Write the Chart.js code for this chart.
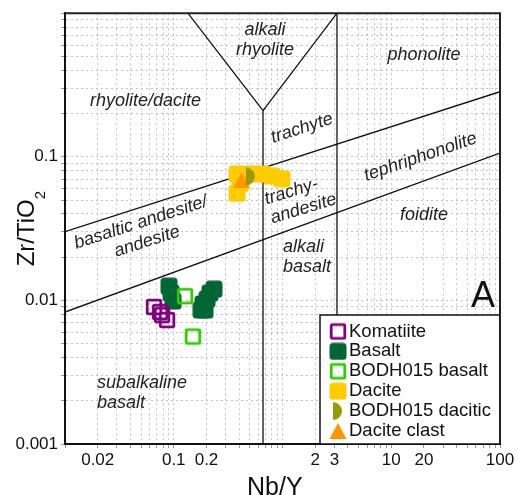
<!DOCTYPE html>
<html>
<head>
<meta charset="utf-8">
<script src="https://cdn.jsdelivr.net/npm/chart.js@4.4.1/dist/chart.umd.min.js"></script>
<style>
  html, body { margin: 0; background: #fff; }
  #wrap { width: 518px; height: 495px; }
</style>
</head>
<body>
<div id="wrap"><canvas id="chart"></canvas></div>
<script>
const fontFamily = '"Liberation Sans", Arial, Helvetica, sans-serif';

// axis tick labels (log scales, only these values are printed)
const xTickLabels = [0.02, 0.1, 0.2, 2, 3, 10, 20, 100];
const yTickLabels = [0.001, 0.01, 0.1];

// Nb/Y vs Zr/TiO2 per sample group
const komatiiteNbY = [0.0658, 0.0748, 0.078, 0.0867];
const komatiiteZrTi = [0.0090, 0.0083, 0.0079, 0.0073];

const basaltNbY = [0.0904, 0.0944, 0.0984, 0.2344, 0.2154, 0.2023, 0.186, 0.1783, 0.1936];
const basaltZrTi = [0.01256, 0.01125, 0.00989, 0.01197, 0.01125, 0.01021, 0.00944, 0.00857, 0.00857];

const bodhBasaltNbY = [0.127, 0.150];
const bodhBasaltZrTi = [0.0107, 0.0056];

const daciteNbY = [0.382, 0.382, 0.406, 0.502, 0.647, 0.80, 0.989];
const daciteZrTi = [0.0759, 0.0556, 0.0647, 0.0759, 0.0759, 0.0734, 0.0702];

const bodhDaciticNbY = [0.461];
const bodhDaciticZrTi = [0.0730];

const clastNbY = [0.420];
const clastZrTi = [0.069];

// field boundaries, [Nb/Y, Zr/TiO2] end points
const boundaries = [
  [[0.135, 1], [0.662, 0.21]],
  [[0.662, 0.21], [3.17, 1]],
  [[0.662, 0.21], [0.662, 0.001]],
  [[3.17, 1], [3.17, 0.001]],
  [[0.01, 0.0301], [100, 0.284]],
  [[0.01, 0.0083], [100, 0.106]]
];

// field names, anchored in data coordinates
const fieldLabels = [
  { lines: ['alkali', 'rhyolite'], x: 0.69, y: 0.646, rot: 0 },
  { lines: ['phonolite'], x: 20.0, y: 0.513, rot: 0 },
  { lines: ['rhyolite/dacite'], x: 0.055, y: 0.2466, rot: 0 },
  { lines: ['trachyte'], x: 1.51, y: 0.158, rot: -18 },
  { lines: ['tephriphonolite'], x: 18.6, y: 0.0996, rot: -19 },
  { lines: ['trachy-', 'andesite'], x: 0.736, y: 0.0432, rot: -17, align: 'left' },
  { lines: ['basaltic andesite/', 'andesite'], x: 0.0532, y: 0.0299, rot: -18 },
  { lines: ['foidite'], x: 20.0, y: 0.0395, rot: 0 },
  { lines: ['alkali', 'basalt'], x: 1.01, y: 0.0202, rot: 0, align: 'left' },
  { lines: ['subalkaline', 'basalt'], x: 0.0197, y: 0.00227, rot: 0, align: 'left' }
];

function markerCanvas(size, draw) {
  const c = document.createElement('canvas');
  c.width = size;
  c.height = size;
  draw(c.getContext('2d'), size);
  return c;
}

function roundRect(ctx, x, y, w, h, r) {
  ctx.beginPath();
  ctx.moveTo(x + r, y);
  ctx.arcTo(x + w, y, x + w, y + h, r);
  ctx.arcTo(x + w, y + h, x, y + h, r);
  ctx.arcTo(x, y + h, x, y, r);
  ctx.arcTo(x, y, x + w, y, r);
  ctx.closePath();
}

const openSquare = (color) => markerCanvas(20, (ctx) => {
  ctx.strokeStyle = color;
  ctx.lineWidth = 2.8;
  roundRect(ctx, 3.2, 3.2, 13.6, 13.6, 1.2);
  ctx.stroke();
});

const filledSquare = (color) => markerCanvas(18, (ctx) => {
  ctx.fillStyle = color;
  roundRect(ctx, 0.5, 0.5, 17, 17, 3.5);
  ctx.fill();
});

const halfDisc = (color) => markerCanvas(22, (ctx) => {
  ctx.fillStyle = color;
  ctx.beginPath();
  ctx.arc(11, 11, 9, -Math.PI / 2, Math.PI / 2);
  ctx.closePath();
  ctx.fill();
});

const triangle = (color) => markerCanvas(18, (ctx) => {
  ctx.fillStyle = color;
  ctx.beginPath();
  ctx.moveTo(9, 1);
  ctx.lineTo(17.5, 17);
  ctx.lineTo(0.5, 17);
  ctx.closePath();
  ctx.fill();
});

const toPoints = (xs, ys) => xs.map((v, i) => ({ x: v, y: ys[i] }));

function logTicks(min, max) {
  const out = [];
  for (let e = Math.floor(Math.log10(min)); e <= Math.ceil(Math.log10(max)); e++) {
    for (let m = 1; m < 10; m++) {
      const v = +(m * Math.pow(10, e)).toPrecision(4);
      if (v >= min * 0.999 && v <= max * 1.001) out.push({ value: v });
    }
  }
  return out;
}

const isLabelled = (list, value) => list.some(v => Math.abs(v - value) / v < 1e-6);

function sampleSet(label, xs, ys, style, order, extra) {
  return Object.assign({
    label: label,
    data: toPoints(xs, ys),
    pointStyle: style,
    pointRadius: 8,
    showLine: false,
    order: order,
    legend: true
  }, extra || {});
}

const datasets = [
  sampleSet('Komatiite', komatiiteNbY, komatiiteZrTi, openSquare('#800080'), 3),
  sampleSet('Basalt', basaltNbY, basaltZrTi, filledSquare('#006633'), 4),
  sampleSet('BODH015 basalt', bodhBasaltNbY, bodhBasaltZrTi, openSquare('#33cc00'), 2),
  sampleSet('Dacite', daciteNbY, daciteZrTi, filledSquare('#ffcc00'), 4),
  sampleSet('BODH015 dacitic', bodhDaciticNbY, bodhDaciticZrTi, halfDisc('#999900'), 0, { legendShift: -5 }),
  sampleSet('Dacite clast', clastNbY, clastZrTi, triangle('#ff9500'), 1)
];

boundaries.forEach(seg => {
  datasets.push({
    data: seg.map(p => ({ x: p[0], y: p[1] })),
    showLine: true,
    borderColor: '#111',
    borderWidth: 1.3,
    pointRadius: 0,
    fill: false,
    order: 10
  });
});

const fieldText = {
  id: 'fieldText',
  beforeDatasetsDraw(chart) {
    const { ctx, scales: { x, y } } = chart;
    ctx.save();
    ctx.fillStyle = '#222';
    ctx.font = `italic 18px ${fontFamily}`;
    ctx.textBaseline = 'middle';
    fieldLabels.forEach(lab => {
      ctx.save();
      ctx.translate(x.getPixelForValue(lab.x), y.getPixelForValue(lab.y));
      ctx.rotate(lab.rot * Math.PI / 180);
      ctx.textAlign = lab.align || 'center';
      const n = lab.lines.length;
      lab.lines.forEach((t, i) => ctx.fillText(t, 0, (i - (n - 1) / 2) * 20));
      ctx.restore();
    });
    ctx.restore();
  }
};

const legendBox = {
  id: 'legendBox',
  afterDatasetsDraw(chart) {
    const { ctx, chartArea: a } = chart;
    const items = chart.data.datasets.filter(d => d.legend);
    const w = 180, h = 129;
    const left = a.right - w, top = a.bottom - h;
    ctx.save();
    ctx.fillStyle = '#fff';
    ctx.fillRect(left, top, w, h);
    ctx.strokeStyle = '#111';
    ctx.lineWidth = 1.5;
    ctx.strokeRect(left, top, w, h);
    ctx.font = `18.5px ${fontFamily}`;
    ctx.fillStyle = '#111';
    ctx.textBaseline = 'middle';
    items.forEach((d, i) => {
      const cy = top + 16.5 + i * 19.9;
      const img = d.pointStyle;
      ctx.drawImage(img, left + 18 - img.width / 2 + (d.legendShift || 0), cy - img.height / 2);
      ctx.fillText(d.label, left + 29, cy);
    });
    // panel letter
    ctx.font = `36px ${fontFamily}`;
    ctx.textAlign = 'right';
    ctx.textBaseline = 'alphabetic';
    ctx.fillText('A', a.right - 5, top - 8);
    ctx.restore();
  },
  afterDraw(chart) {
    const { ctx, chartArea: a } = chart;
    ctx.save();
    // top and right frame
    ctx.strokeStyle = '#222';
    ctx.lineWidth = 2;
    ctx.beginPath();
    ctx.moveTo(a.left, a.top);
    ctx.lineTo(a.right, a.top);
    ctx.lineTo(a.right, a.bottom);
    ctx.stroke();

    // axis titles
    ctx.fillStyle = '#111';
    ctx.textBaseline = 'alphabetic';
    ctx.font = `25px ${fontFamily}`;
    ctx.fillText('Nb/Y', 247, 495);

    ctx.translate(34, (a.top + a.bottom) / 2);
    ctx.rotate(-Math.PI / 2);
    ctx.font = `24px ${fontFamily}`;
    const w1 = ctx.measureText('Zr/TiO').width;
    ctx.font = `15px ${fontFamily}`;
    const w2 = ctx.measureText('2').width;
    const start = -(w1 + w2) / 2;
    ctx.font = `24px ${fontFamily}`;
    ctx.fillText('Zr/TiO', start, 0);
    ctx.font = `15px ${fontFamily}`;
    ctx.fillText('2', start + w1, 11);
    ctx.restore();
  }
};

const gridOpts = {
  color: '#c4c4c4',
  lineWidth: 1,
  tickLength: 4,
  tickColor: '#999',
  tickWidth: 1
};

new Chart(document.getElementById('chart'), {
  type: 'scatter',
  data: { datasets: datasets },
  options: {
    responsive: true,
    maintainAspectRatio: false,
    animation: false,
    events: [],
    layout: { padding: { top: 10, right: 18, left: 0, bottom: 0 } },
    plugins: {
      legend: { display: false },
      tooltip: { enabled: false }
    },
    scales: {
      x: {
        type: 'logarithmic',
        min: 0.01,
        max: 100,
        afterBuildTicks: (s) => { s.ticks = logTicks(0.01, 100); },
        afterFit: (s) => { s.height = 51; },
        grid: gridOpts,
        border: { display: true, color: '#111', width: 2, dash: [2, 3] },
        ticks: {
          autoSkip: false,
          maxRotation: 0,
          padding: 2,
          color: '#111',
          font: { family: fontFamily, size: 17 },
          callback: (v) => isLabelled(xTickLabels, v) ? String(v) : ''
        }
      },
      y: {
        type: 'logarithmic',
        min: 0.001,
        max: 1,
        afterBuildTicks: (s) => { s.ticks = logTicks(0.001, 1); },
        afterFit: (s) => { s.width = 65; },
        grid: gridOpts,
        border: { display: true, color: '#111', width: 2, dash: [2, 3] },
        ticks: {
          autoSkip: false,
          padding: 3,
          color: '#111',
          font: { family: fontFamily, size: 17 },
          callback: (v) => isLabelled(yTickLabels, v) ? String(v) : ''
        }
      }
    }
  },
  plugins: [fieldText, legendBox]
});
</script>
</body>
</html>
